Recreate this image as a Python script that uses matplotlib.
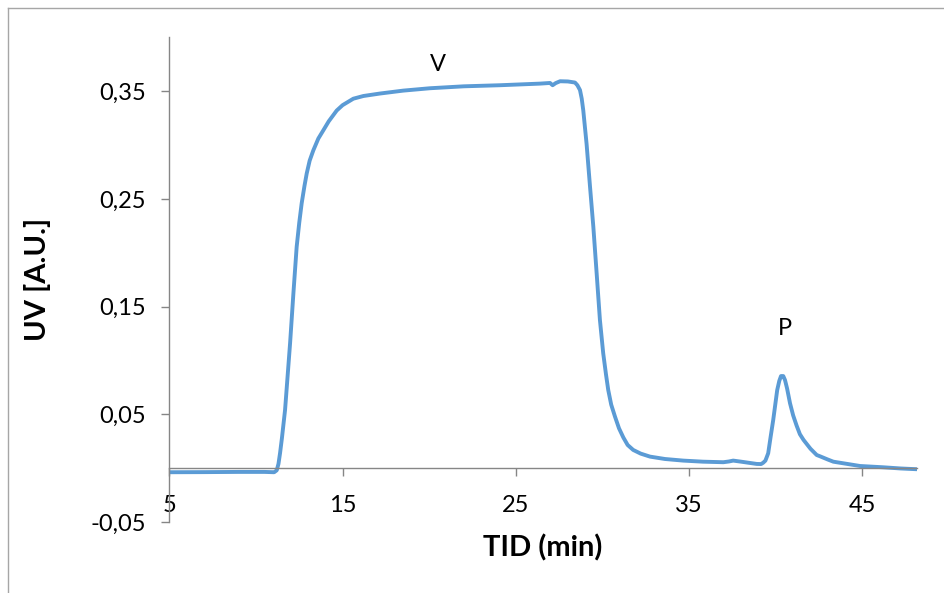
import matplotlib.pyplot as plt
from matplotlib.lines import Line2D

# UV trace (time in min, UV in A.U.)
tid = [5.0, 7.0, 9.0, 10.5, 11.05, 11.2, 11.3, 11.39, 11.5, 11.68, 11.97,
       12.16, 12.35, 12.5, 12.64, 12.8, 12.93, 13.1, 13.31, 13.6, 13.89,
       14.2, 14.66, 15.0, 15.62, 16.2, 17.16, 18.5, 20.04, 22.0, 24.08,
       26.39, 26.97, 27.12, 27.3, 27.55, 28.0, 28.41, 28.55, 28.7, 28.8,
       28.89, 29.08, 29.28, 29.47, 29.66, 29.85, 30.04, 30.2, 30.33, 30.5,
       30.72, 30.95, 31.2, 31.45, 31.77, 32.2, 32.74, 33.6, 34.66, 35.8,
       36.97, 37.3, 37.54, 38.0, 38.9, 39.15, 39.27, 39.4, 39.56, 39.7,
       39.85, 40.08, 40.2, 40.3, 40.43, 40.53, 40.65, 40.82, 41.0, 41.2,
       41.39, 41.6, 41.78, 42.0, 42.36, 42.55, 43.0, 43.32, 43.51, 44.86,
       46.2, 47.2, 48.13]
uv = [-0.0038, -0.0037, -0.0035, -0.0035, -0.0038, -0.002, 0.004, 0.0138,
      0.028, 0.054, 0.116, 0.162, 0.2055, 0.228, 0.246, 0.262, 0.2736,
      0.2855, 0.295, 0.306, 0.3137, 0.322, 0.332, 0.337, 0.343, 0.3455,
      0.3478, 0.3505, 0.3527, 0.3545, 0.3555, 0.357, 0.3576, 0.3555, 0.3575,
      0.3592, 0.359, 0.358, 0.3555, 0.351, 0.343, 0.332, 0.301, 0.261, 0.224,
      0.181, 0.1375, 0.1066, 0.087, 0.0725, 0.059, 0.0478, 0.037, 0.0285,
      0.0215, 0.0169, 0.0135, 0.0107, 0.0085, 0.007, 0.006, 0.0055, 0.0062,
      0.007, 0.006, 0.0039, 0.0038, 0.005, 0.007, 0.0138, 0.029, 0.0447,
      0.0725, 0.081, 0.0855, 0.0855, 0.0818, 0.074, 0.0602, 0.049, 0.0395,
      0.0315, 0.0262, 0.0225, 0.018, 0.0122, 0.011, 0.008, 0.006, 0.0055,
      0.002, 0.0008, -0.0003, -0.001]

x_ticks = [5, 15, 25, 35, 45]
y_ticks = [-0.05, 0.05, 0.15, 0.25, 0.35]
y_labels = ["-0,05", "0,05", "0,15", "0,25", "0,35"]

# peak labels
peaks = [("V", 20.5, 0.375), ("P", 40.55, 0.13)]

plt.rcParams['font.family'] = ['Lato', 'DejaVu Sans']

fig = plt.figure(figsize=(9.44, 5.93), dpi=100)
ax = fig.add_axes([169.3 / 944, 1 - 522 / 593, (916.7 - 169.3) / 944, (522 - 37.3) / 593])

ax.plot(tid, uv, color="#5B9BD5", linewidth=2.8,
        solid_joinstyle="round", solid_capstyle="round")

ax.set_xlim(5, 48.13)
ax.set_ylim(-0.05, 0.40)

axis_gray = "#868686"
ax.spines["top"].set_visible(False)
ax.spines["right"].set_visible(False)
ax.spines["bottom"].set_position(("data", 0))
ax.spines["bottom"].set_color(axis_gray)
ax.spines["left"].set_color(axis_gray)
ax.spines["bottom"].set_linewidth(1.0)
ax.spines["left"].set_linewidth(1.0)

ax.set_xticks(x_ticks)
ax.set_xticklabels([str(t) for t in x_ticks])
ax.set_yticks(y_ticks)
ax.set_yticklabels(y_labels)
ax.tick_params(axis="both", direction="out", length=6, width=1.0,
               color=axis_gray, labelsize=17, labelcolor="black")
ax.tick_params(axis="x", pad=13)
ax.tick_params(axis="y", pad=11)

ax.set_ylabel("UV [A.U.]", fontsize=21, fontweight="bold")
ax.yaxis.set_label_coords(-0.158, 0.5)
fig.text(543 / 944, 1 - 548 / 593, "TID (min)", fontsize=21, fontweight="bold",
         ha="center", va="center")

for name, px, py in peaks:
    ax.text(px, py, name, fontsize=17, ha="center", va="center")

# chart area border (only left and top edges are visible)
fig.add_artist(Line2D([8 / 944, 8 / 944], [0, 1 - 8 / 593], transform=fig.transFigure,
                      color="#A6A6A6", linewidth=1.0))
fig.add_artist(Line2D([8 / 944, 1], [1 - 8 / 593, 1 - 8 / 593], transform=fig.transFigure,
                      color="#A6A6A6", linewidth=1.0))

plt.savefig("out.png", dpi=100)
